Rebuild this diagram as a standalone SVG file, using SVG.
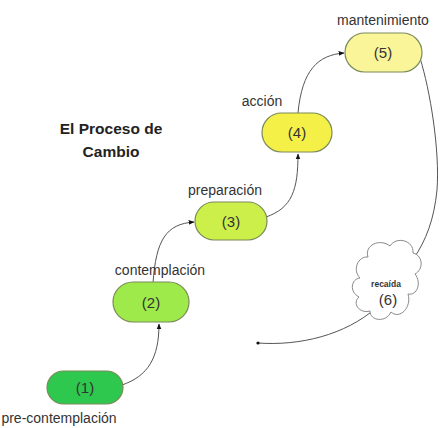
<svg xmlns="http://www.w3.org/2000/svg" width="441" height="428" viewBox="0 0 441 428">
<defs>
<style>
.lbl{font-family:"Liberation Sans",Arial,sans-serif;font-size:14px;fill:#333;text-anchor:middle}
.num{font-family:"Liberation Sans",Arial,sans-serif;font-size:15px;fill:#333;text-anchor:middle}
.title{font-family:"Liberation Sans",Arial,sans-serif;font-size:15.5px;font-weight:bold;fill:#222;text-anchor:middle}
.pill{stroke:#7a8a5a;stroke-width:1.2}
.con{fill:none;stroke:#555;stroke-width:1}
</style>
<marker id="arr" viewBox="0 0 10 10" refX="9" refY="5" markerWidth="6" markerHeight="6" orient="auto-start-reverse">
<path d="M0,1 L10,5 L0,9 z" fill="#111"/>
</marker>
<marker id="dot" viewBox="0 0 10 10" refX="5" refY="5" markerWidth="4" markerHeight="4">
<circle cx="5" cy="5" r="4" fill="#111"/>
</marker>
</defs>
<rect width="441" height="428" fill="#fff"/>
<g id="title">
<text class="title" x="111" y="134">El Proceso de</text>
<text class="title" x="111" y="157">Cambio</text>
</g>
<g id="connectors">
<path class="con" d="M122,385 C148,376 159,358 159,324" marker-end="url(#arr)"/>
<path class="con" d="M153,283 C156,240 166,224 194,222" marker-end="url(#arr)"/>
<path class="con" d="M266,217 C292,208 298,190 298,154" marker-end="url(#arr)"/>
<path class="con" d="M298,113 C302,70 318,55 344,53" marker-end="url(#arr)"/>
<path class="con" d="M420,58 C430,90 440,150 437,190 C434,220 426,240 414,258"/>
<path class="con" d="M376,308 C345,335 300,346 258,343" marker-end="url(#dot)"/>
</g>
<g id="n1">
<rect class="pill" x="47" y="371" width="76" height="33" rx="16.5" fill="#2fc84e"/>
<text class="num" x="85" y="393">(1)</text>
<text class="lbl" x="59" y="423">pre-contemplación</text>
</g>
<g id="n2">
<rect class="pill" x="113" y="282" width="76" height="40" rx="20" fill="#9eea4a"/>
<text class="num" x="151" y="308">(2)</text>
<text class="lbl" x="160" y="275">contemplación</text>
</g>
<g id="n3">
<rect class="pill" x="195" y="202" width="72" height="38" rx="19" fill="#cdef4a"/>
<text class="num" x="231" y="227">(3)</text>
<text class="lbl" x="225" y="195">preparación</text>
</g>
<g id="n4">
<rect class="pill" x="262" y="113" width="70" height="39" rx="19.5" fill="#f5f048"/>
<text class="num" x="297" y="138">(4)</text>
<text class="lbl" x="262" y="106">acción</text>
</g>
<g id="n5">
<rect class="pill" x="345" y="33" width="77" height="39" rx="19.5" fill="#fbf59a"/>
<text class="num" x="383" y="58">(5)</text>
<text class="lbl" x="383" y="25">mantenimiento</text>
</g>
<g id="n6">
<path d="M368,257 C364,245 380,238 390,246 C396,236 414,240 413,253 C424,256 423,270 415,274 C422,283 417,296 408,294 C412,307 400,320 391,312 C386,323 370,321 370,311 C359,314 352,303 359,297 C349,292 351,279 360,278 C352,270 358,256 368,257 Z" fill="#fff" stroke="#888" stroke-width="1"/>
<text x="386" y="287" font-family="Liberation Sans,Arial,sans-serif" font-size="8.5" font-weight="bold" fill="#333" text-anchor="middle">recaída</text>
<text class="num" x="388" y="305" font-size="16">(6)</text>
</g>
</svg>
